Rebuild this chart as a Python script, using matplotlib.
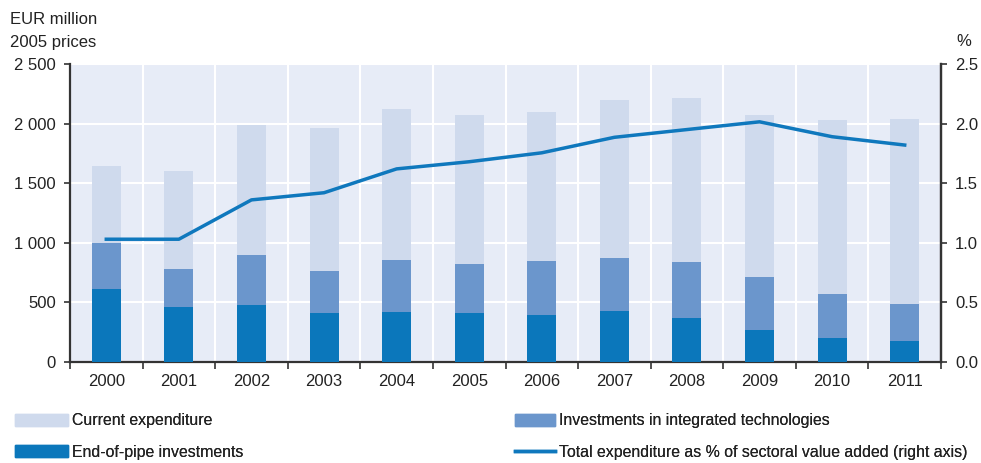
import matplotlib
matplotlib.use("Agg")
import matplotlib.pyplot as plt
from matplotlib.patches import Patch
from matplotlib.lines import Line2D
import numpy as np

plt.rcParams['font.family'] = ['Liberation Sans', 'DejaVu Sans']

years = ["2000", "2001", "2002", "2003", "2004", "2005",
         "2006", "2007", "2008", "2009", "2010", "2011"]
end_of_pipe = [615, 462, 482, 412, 420, 412, 395, 428, 367, 269, 205, 176]
integrated = [386, 322, 417, 350, 434, 414, 451, 443, 468, 448, 369, 309]
current = [643, 817, 1086, 1203, 1268, 1246, 1254, 1329, 1377, 1352, 1453, 1553]
share_pct = [1.03, 1.03, 1.36, 1.42, 1.62, 1.68, 1.755, 1.885, 1.95, 2.015, 1.89, 1.82]

c_current = "#cfdaed"
c_integr = "#6b96cc"
c_eop = "#0b77bb"
c_line = "#0f78bd"
c_bg = "#e7ecf7"
c_axis = "#333333"
c_text = "#222222"

W, H = 981, 463
fig = plt.figure(figsize=(W / 100, H / 100), dpi=100)
ax = fig.add_axes([70 / W, 1 - 362 / H, 871 / W, 298 / H])
ax.set_facecolor(c_bg)

x = np.arange(len(years))
w = 0.4
eop = np.array(end_of_pipe)
integ = np.array(integrated)
cur = np.array(current)
ax.bar(x, eop, w, color=c_eop, zorder=3)
ax.bar(x, integ, w, bottom=eop, color=c_integr, zorder=3)
ax.bar(x, cur, w, bottom=eop + integ, color=c_current, zorder=3)

ax.set_xlim(-0.5, len(years) - 0.5)
ax.set_ylim(0, 2500)
ax.set_yticks([0, 500, 1000, 1500, 2000, 2500])
ax.set_yticklabels(["0", "500", "1 000", "1 500", "2 000", "2 500"])
ax.set_xticks(x)
ax.set_xticklabels(years)
ax.set_xticks(np.arange(len(years) + 1) - 0.5, minor=True)
ax.tick_params(axis='x', which='major', length=0, pad=9, labelsize=12, colors=c_text)
ax.tick_params(axis='x', which='minor', length=5, width=1.2, color=c_axis)
ax.tick_params(axis='y', length=4, width=1.2, color=c_axis, labelsize=12,
               labelcolor=c_text, pad=6)

ax.grid(True, axis='y', color="white", linewidth=1.5, zorder=1)
ax.grid(True, axis='x', which='minor', color="white", linewidth=1.5, zorder=1)
ax.grid(False, axis='x', which='major')
ax.set_axisbelow(True)

ax.spines["top"].set_visible(False)
for s in ["left", "right", "bottom"]:
    ax.spines[s].set_color(c_axis)
    ax.spines[s].set_linewidth(1.6)

ax2 = ax.twinx()
ax2.plot(x, share_pct, color=c_line, linewidth=2.5, zorder=5)
ax2.set_ylim(0, 2.5)
ax2.set_yticks([0, 0.5, 1.0, 1.5, 2.0, 2.5])
ax2.set_yticklabels(["0.0", "0.5", "1.0", "1.5", "2.0", "2.5"])
ax2.tick_params(axis='y', length=4, width=1.2, color=c_axis, labelsize=12,
                labelcolor=c_text, pad=6)
for s in ["top", "left", "bottom"]:
    ax2.spines[s].set_visible(False)
ax2.spines["right"].set_color(c_axis)
ax2.spines["right"].set_linewidth(1.6)

fig.text(10 / W, 1 - 20 / H, "EUR million", fontsize=12, color=c_text, va="center")
fig.text(10 / W, 1 - 43 / H, "2005 prices", fontsize=12, color=c_text, va="center")
fig.text(964 / W, 1 - 42 / H, "%", fontsize=12, color=c_text, va="center", ha="center")

# legend: one entry per box, placed on a two-column grid below the axes
leg_fs = 11.4
entries = [
    (Patch(color=c_current, label="Current expenditure"), 15, 421, 3.35),
    (Patch(color=c_eop, label="End-of-pipe investments"), 15, 452, 3.35),
    (Patch(color=c_integr, label="Investments in integrated technologies"), 515, 421, 2.55),
    (Line2D([0], [0], color=c_line, linewidth=2.5,
            label="Total expenditure as % of sectoral value added (right axis)"), 515, 452, 2.55),
]
for handle, px, py, hl in entries:
    leg = fig.legend(handles=[handle], loc="center left",
                     bbox_to_anchor=(px / W, 1 - py / H), frameon=False,
                     fontsize=leg_fs, handlelength=hl, handleheight=0.7,
                     handletextpad=0.25, borderpad=0, borderaxespad=0,
                     labelcolor=c_text)
    fig.add_artist(leg)

fig.savefig("out.png", dpi=100)
